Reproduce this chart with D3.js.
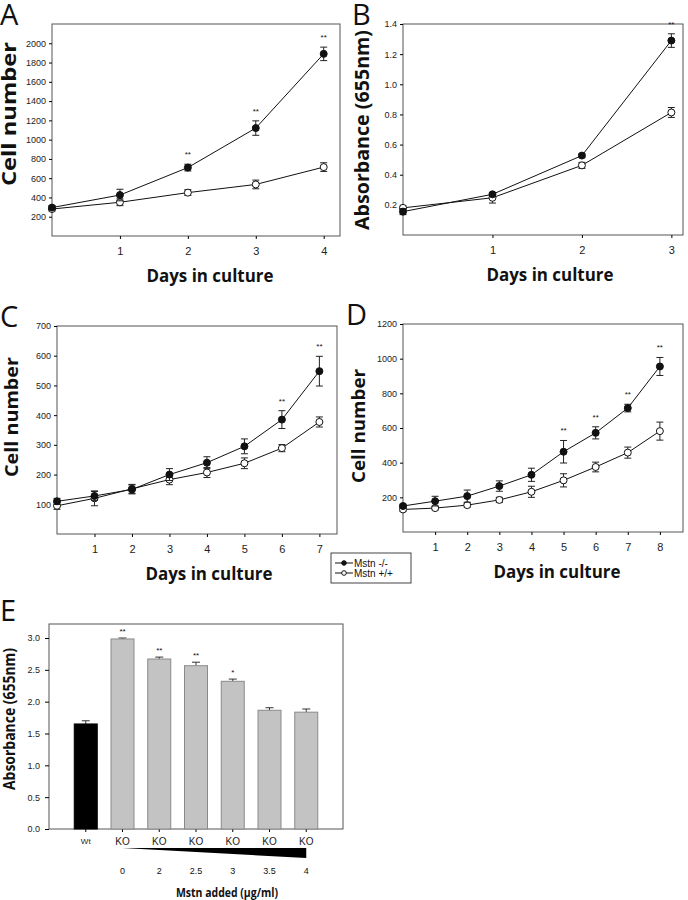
<!DOCTYPE html>
<html>
<head>
<meta charset="utf-8">
<title>Mstn cell growth</title>
<script src="https://d3js.org/d3.v7.min.js"></script>
<style>
body { margin: 0; background: #fff; }
text { font-family: 'Liberation Sans', Arial, sans-serif; fill: #111; }
.title { font-family: 'Open Sans', sans-serif; font-weight: bold; }
.letter { font-family: 'Open Sans', sans-serif; font-weight: normal; }
.tick text { font-size: 9px; fill: #222; }
</style>
</head>
<body>
<div id="fig"></div>
<script>
// ---- data ----
// panel A: cell number, days 0-4
var daysA = [0, 1, 2, 3, 4];
var koA = [295, 425, 710, 1120, 1890];
var koErrA = [20, 60, 35, 75, 70];
var wtA = [280, 350, 450, 535, 715];
var wtErrA = [20, 35, 30, 45, 45];
var starsA = [2, 3, 4];

// panel B: absorbance, days 0-3
var daysB = [0, 1, 2, 3];
var koB = [0.155, 0.27, 0.527, 1.29];
var koErrB = [0.02, 0.012, 0.012, 0.045];
var wtB = [0.18, 0.247, 0.462, 0.813];
var wtErrB = [0.012, 0.035, 0.02, 0.033];
var starsB = [3];

// panel C: cell number, days 0-7
var daysC = [0, 1, 2, 3, 4, 5, 6, 7];
var koC = [110, 128, 150, 200, 240, 295, 385, 548];
var koErrC = [10, 15, 15, 20, 20, 25, 30, 50];
var wtC = [95, 120, 152, 183, 207, 238, 289, 377];
var wtErrC = [12, 25, 15, 17, 17, 18, 12, 17];
var starsC = [6, 7];

// panel D: cell number, days 0-8
var daysD = [0, 1, 2, 3, 4, 5, 6, 7, 8];
var koD = [150, 178, 207, 265, 330, 463, 572, 715, 955];
var koErrD = [10, 28, 35, 30, 38, 65, 35, 22, 52];
var wtD = [130, 138, 155, 185, 232, 298, 375, 458, 582];
var wtErrD = [10, 10, 12, 15, 32, 38, 28, 32, 52];
var starsD = [5, 6, 7, 8];

// panel E: absorbance vs Mstn added
var groupsE = ["Wt", "KO", "KO", "KO", "KO", "KO", "KO"];
var doseE = ["", "0", "2", "2.5", "3", "3.5", "4"];
var valuesE = [1.65, 2.985, 2.67, 2.565, 2.32, 1.865, 1.835];
var errE = [0.05, 0.015, 0.03, 0.055, 0.035, 0.04, 0.05];
var sigE = ["", "**", "**", "**", "*", "", ""];

var seriesNames = ["Mstn -/-", "Mstn +/+"];

var svg = d3.select("#fig").append("svg")
  .attr("width", 688).attr("height", 900);

// draws one growth-curve panel
function linePanel(o) {
  var g = svg.append("g");
  var x = d3.scaleLinear().domain(o.xDomain).range([o.left, o.right]);
  var y = d3.scaleLinear().domain(o.yDomain).range([o.bottom, o.top]);

  // frame
  g.append("rect")
    .attr("x", o.left).attr("y", o.top)
    .attr("width", o.right - o.left).attr("height", o.bottom - o.top)
    .style("fill", "none").style("stroke", "#555").style("stroke-width", 1);

  var ya = g.append("g").attr("transform", "translate(" + o.left + ",0)")
    .call(d3.axisLeft(y).tickValues(o.yTicks).tickSize(3).tickPadding(3).tickFormat(o.yFormat));
  ya.select(".domain").remove();
  ya.selectAll(".tick text").style("font-size", "9px");

  var xa = g.append("g").attr("transform", "translate(0," + o.bottom + ")")
    .call(d3.axisBottom(x).tickValues(o.days.slice(1)).tickSize(3).tickPadding(8).tickFormat(d3.format("d")));
  xa.select(".domain").remove();
  xa.selectAll(".tick text").style("font-size", "11px");

  function series(vals, errs, fill) {
    g.append("path")
      .datum(o.days)
      .attr("d", d3.line().x(function(d) { return x(d); }).y(function(d, i) { return y(vals[i]); }))
      .style("fill", "none").style("stroke", "#111").style("stroke-width", 1);
    var eb = g.selectAll(null).data(o.days).enter().append("g");
    eb.append("line")
      .attr("x1", function(d) { return x(d); }).attr("x2", function(d) { return x(d); })
      .attr("y1", function(d, i) { return y(vals[i] - errs[i]); })
      .attr("y2", function(d, i) { return y(vals[i] + errs[i]); })
      .style("stroke", "#222");
    [-1, 1].forEach(function(s) {
      eb.append("line")
        .attr("x1", function(d) { return x(d) - 3.5; }).attr("x2", function(d) { return x(d) + 3.5; })
        .attr("y1", function(d, i) { return y(vals[i] + s * errs[i]); })
        .attr("y2", function(d, i) { return y(vals[i] + s * errs[i]); })
        .style("stroke", "#222");
    });
    g.selectAll(null).data(o.days).enter().append("circle")
      .attr("cx", function(d) { return x(d); })
      .attr("cy", function(d, i) { return y(vals[i]); })
      .attr("r", 3.5)
      .style("fill", fill).style("stroke", "#111").style("stroke-width", 1);
  }
  series(o.wt, o.wtErr, "#fff");
  series(o.ko, o.koErr, "#111");

  // significance marks
  g.selectAll(null).data(o.stars).enter().append("text")
    .attr("x", function(d) { return x(d); })
    .attr("y", function(d) { var i = o.days.indexOf(d); return y(o.ko[i] + o.koErr[i]) - 7; })
    .attr("text-anchor", "middle")
    .style("font-size", "8px")
    .text("**");

  g.append("text").attr("class", "title")
    .attr("transform", "translate(" + o.yTitleX + "," + o.yTitleY + ") rotate(-90)")
    .attr("text-anchor", "middle")
    .attr("textLength", o.yTitleLen).attr("lengthAdjust", "spacingAndGlyphs")
    .style("font-size", o.yTitleSize + "px")
    .text(o.yTitle);

  g.append("text").attr("class", "title")
    .attr("x", o.xTitleX).attr("y", o.bottom + 46)
    .attr("text-anchor", "middle")
    .attr("textLength", 127).attr("lengthAdjust", "spacingAndGlyphs")
    .style("font-size", "18px")
    .text("Days in culture");

  g.append("text").attr("class", "letter")
    .attr("x", o.letterX).attr("y", o.top + 1)
    .style("font-size", "29px")
    .text(o.letter);
}

linePanel({
  letter: "A", letterX: 0, left: 52, right: 340, top: 24, bottom: 236,
  xDomain: [0, 4.24], yDomain: [0, 2200],
  yTicks: [200, 400, 600, 800, 1000, 1200, 1400, 1600, 1800, 2000], yFormat: d3.format("d"),
  days: daysA, ko: koA, koErr: koErrA, wt: wtA, wtErr: wtErrA, stars: starsA,
  yTitle: "Cell number", yTitleX: 16, yTitleY: 114, yTitleLen: 144, yTitleSize: 19, xTitleX: 210
});

linePanel({
  letter: "B", letterX: 352, left: 403, right: 683, top: 24, bottom: 235,
  xDomain: [0, 3.13], yDomain: [0, 1.4],
  yTicks: [0.2, 0.4, 0.6, 0.8, 1.0, 1.2, 1.4], yFormat: d3.format(".1f"),
  days: daysB, ko: koB, koErr: koErrB, wt: wtB, wtErr: wtErrB, stars: starsB,
  yTitle: "Absorbance (655nm)", yTitleX: 369, yTitleY: 130, yTitleLen: 200, yTitleSize: 19, xTitleX: 550
});

linePanel({
  letter: "C", letterX: 0, left: 57, right: 337, top: 326, bottom: 534,
  xDomain: [0, 7.47], yDomain: [0, 700],
  yTicks: [100, 200, 300, 400, 500, 600, 700], yFormat: d3.format("d"),
  days: daysC, ko: koC, koErr: koErrC, wt: wtC, wtErr: wtErrC, stars: starsC,
  yTitle: "Cell number", yTitleX: 18, yTitleY: 417, yTitleLen: 120, yTitleSize: 18, xTitleX: 209
});

linePanel({
  letter: "D", letterX: 346, left: 403, right: 683, top: 324, bottom: 532,
  xDomain: [0, 8.72], yDomain: [0, 1200],
  yTicks: [200, 400, 600, 800, 1000, 1200], yFormat: d3.format("d"),
  days: daysD, ko: koD, koErr: koErrD, wt: wtD, wtErr: wtErrD, stars: starsD,
  yTitle: "Cell number", yTitleX: 365, yTitleY: 426, yTitleLen: 114, yTitleSize: 18, xTitleX: 557
});

// legend
var lg = svg.append("g");
lg.append("rect").attr("x", 331).attr("y", 553).attr("width", 80).attr("height", 30)
  .style("fill", "#fff").style("stroke", "#444");
seriesNames.forEach(function(name, i) {
  var yy = 563 + i * 10;
  lg.append("line").attr("x1", 335).attr("x2", 353).attr("y1", yy).attr("y2", yy)
    .style("stroke", "#111");
  lg.append("circle").attr("cx", 344).attr("cy", yy).attr("r", 2.3)
    .style("fill", i === 0 ? "#111" : "#fff").style("stroke", "#111");
  lg.append("text").attr("x", 354).attr("y", yy + 3.5)
    .style("font-size", "10px").text(name);
});

// panel E: bar chart
(function() {
  var left = 49, right = 343, top = 624, bottom = 829;
  var g = svg.append("g");
  var idx = d3.range(groupsE.length);
  var x = d3.scaleBand().domain(idx).range([left, right]).paddingInner(0.374).paddingOuter(0.687);
  var y = d3.scaleLinear().domain([0, 3.22]).range([bottom, top]);

  g.append("rect")
    .attr("x", left).attr("y", top).attr("width", right - left).attr("height", bottom - top)
    .style("fill", "none").style("stroke", "#555");

  var ya = g.append("g").attr("transform", "translate(" + left + ",0)")
    .call(d3.axisLeft(y).tickValues([0, 0.5, 1, 1.5, 2, 2.5, 3]).tickSize(4).tickPadding(5).tickFormat(d3.format(".1f")));
  ya.select(".domain").remove();
  ya.selectAll(".tick text").style("font-size", "9px");

  var xa = g.append("g").attr("transform", "translate(0," + bottom + ")")
    .call(d3.axisBottom(x).tickSize(3).tickPadding(6).tickFormat(function(d) { return groupsE[d]; }));
  xa.select(".domain").remove();
  xa.selectAll(".tick text").style("font-size", function(d) { return d === 0 ? "8px" : "10px"; });

  // error caps (upper only)
  g.selectAll(null).data(idx).enter().append("path")
    .attr("d", function(i) {
      var cx = x(i) + x.bandwidth() / 2, y0 = y(valuesE[i]), y1 = y(valuesE[i] + errE[i]);
      return "M" + cx + "," + y0 + "V" + y1 + "M" + (cx - 4) + "," + y1 + "H" + (cx + 4);
    })
    .style("stroke", "#333").style("fill", "none");

  g.selectAll(null).data(idx).enter().append("rect")
    .attr("x", function(i) { return x(i); })
    .attr("y", function(i) { return y(valuesE[i]); })
    .attr("width", x.bandwidth())
    .attr("height", function(i) { return bottom - y(valuesE[i]); })
    .style("fill", function(i) { return i === 0 ? "#000" : "#c3c3c3"; })
    .style("stroke", function(i) { return i === 0 ? "#000" : "#8a8a8a"; });

  g.selectAll(null).data(idx).enter().append("text")
    .attr("x", function(i) { return x(i) + x.bandwidth() / 2; })
    .attr("y", function(i) { return y(valuesE[i] + errE[i]) - 4; })
    .attr("text-anchor", "middle").style("font-size", "8px")
    .text(function(i) { return sigE[i]; });

  // dose wedge and dose labels
  var x0 = x(1) + x.bandwidth() / 2, x1 = x(6) + x.bandwidth() / 2;
  g.append("path")
    .attr("d", "M" + x0 + "," + 848 + "L" + x1 + "," + 848 + "L" + x1 + "," + 858 + "Z")
    .style("fill", "#000");
  g.selectAll(null).data(idx.slice(1)).enter().append("text")
    .attr("x", function(i) { return x(i) + x.bandwidth() / 2; })
    .attr("y", 874).attr("text-anchor", "middle").style("font-size", "9px")
    .text(function(i) { return doseE[i]; });

  g.append("text").attr("class", "title")
    .attr("x", 227).attr("y", 897).attr("text-anchor", "middle")
    .attr("textLength", 102).attr("lengthAdjust", "spacingAndGlyphs")
    .style("font-size", "12px").text("Mstn added (\u03bcg/ml)");

  g.append("text").attr("class", "title")
    .attr("transform", "translate(15,719) rotate(-90)")
    .attr("text-anchor", "middle")
    .attr("textLength", 142).attr("lengthAdjust", "spacingAndGlyphs")
    .style("font-size", "16px")
    .text("Absorbance (655nm)");

  g.append("text").attr("class", "letter")
    .attr("x", 0).attr("y", 621).style("font-size", "29px").text("E");
})();
</script>
</body>
</html>
